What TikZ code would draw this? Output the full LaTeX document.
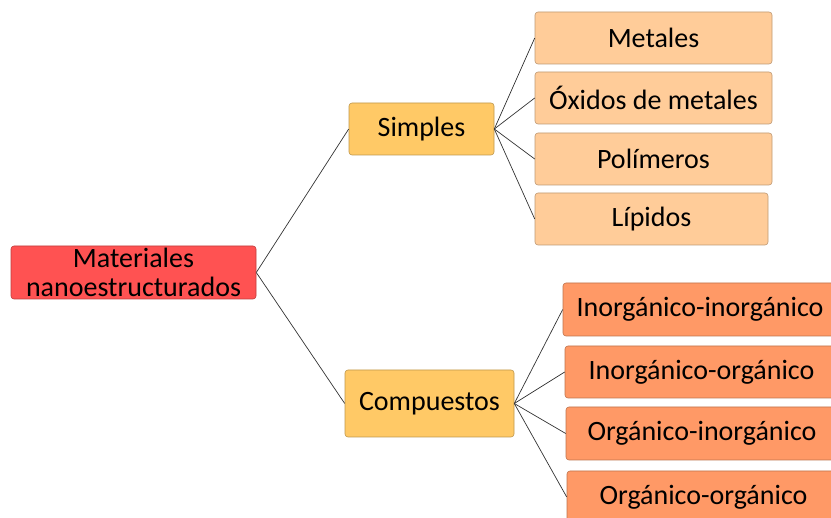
\documentclass[tikz,border=0pt]{standalone}
\usepackage{fontspec}
\setmainfont{Carlito}
\begin{document}
\begin{tikzpicture}[x=1pt,y=-1pt,
  box/.style={draw=#1!75!black, line width=0.6pt, rounded corners=3pt, align=center,
    inner sep=0pt, font=\fontsize{28}{29}\selectfont, text=black},
  rootbox/.style={box=rootred, fill=rootred},
  midbox/.style={box=midgold, fill=midgold},
  leafa/.style={box=leafpeach, fill=leafpeach},
  leafb/.style={box=leaforange, fill=leaforange},
  link/.style={draw=black!80, line width=0.7pt}]
\definecolor{rootred}{HTML}{FF5252}
\definecolor{midgold}{HTML}{FFC966}
\definecolor{leafpeach}{HTML}{FFCC99}
\definecolor{leaforange}{HTML}{FF9966}
\useasboundingbox (0,0) rectangle (831,518);
\begin{scope}
\clip (0,0) rectangle (831,518);
% root
\node[rootbox, minimum width=245pt, minimum height=53pt] (mat) at (133.5,272.5) {Materiales\\nanoestructurados};
% second level
\node[midbox, minimum width=145pt, minimum height=52pt] (sim) at (421.5,129) {Simples};
\node[midbox, minimum width=169pt, minimum height=67pt] (com) at (429.5,403.5) {Compuestos};
% simple materials
\node[leafa, minimum width=237pt, minimum height=52pt] (met) at (653.5,38) {Metales};
\node[leafa, minimum width=237pt, minimum height=52pt] (oxi) at (653.5,98) {Óxidos de metales};
\node[leafa, minimum width=237pt, minimum height=52pt] (pol) at (653.5,159) {Polímeros};
\node[leafa, minimum width=233pt, minimum height=52pt] (lip) at (651.5,219) {Lípidos};
% composite materials
\node[leafb, minimum width=274pt, minimum height=53pt] (ii) at (700,309.5) {Inorgánico-inorgánico};
\node[leafb, minimum width=273pt, minimum height=52pt] (io) at (701.5,372) {Inorgánico-orgánico};
\node[leafb, minimum width=272pt, minimum height=53pt] (oi) at (702,433.5) {Orgánico-inorgánico};
\node[leafb, minimum width=273pt, minimum height=52pt] (oo) at (703.5,497) {Orgánico-orgánico};
% connectors
\draw[link] (mat.east) -- (sim.west);
\draw[link] (mat.east) -- (com.west);
\foreach \n in {met,oxi,pol,lip} \draw[link] (sim.east) -- (\n.west);
\foreach \n in {ii,io,oi,oo} \draw[link] (com.east) -- (\n.west);
\end{scope}
\end{tikzpicture}
\end{document}
